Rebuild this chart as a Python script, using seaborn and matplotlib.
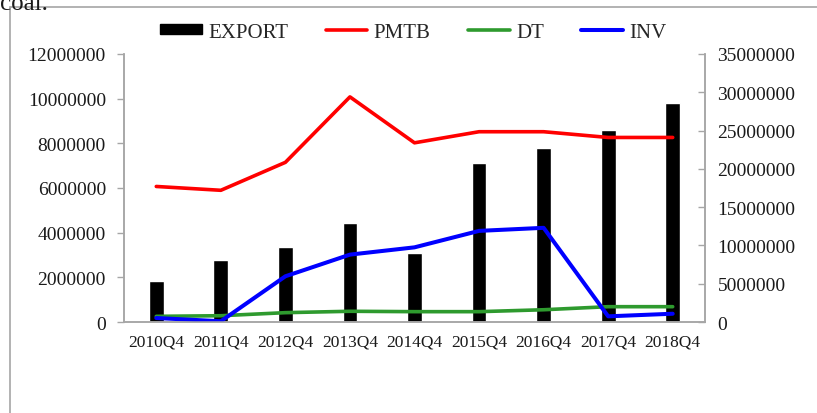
import numpy as np
import pandas as pd
import matplotlib.pyplot as plt
from matplotlib.lines import Line2D
from matplotlib.patches import Patch
import seaborn as sns

# data
quarters = ['2010Q4', '2011Q4', '2012Q4', '2013Q4', '2014Q4',
            '2015Q4', '2016Q4', '2017Q4', '2018Q4']
export = [1850000, 2790000, 3340000, 4430000, 3100000,
          7110000, 7810000, 8610000, 9810000]
pmtb = [17700000, 17200000, 20850000, 29400000, 23400000,
        24850000, 24850000, 24100000, 24100000]
dt = [740000, 820000, 1220000, 1400000, 1350000,
      1350000, 1600000, 2000000, 2000000]
inv = [520000, 100000, 5970000, 8800000, 9750000,
       11900000, 12300000, 740000, 1080000]

left_ticks = [0, 2000000, 4000000, 6000000, 8000000, 10000000, 12000000]
right_ticks = [0, 5000000, 10000000, 15000000, 20000000, 25000000, 30000000, 35000000]

df = pd.DataFrame({'quarter': quarters, 'pos': range(len(quarters)),
                   'EXPORT': export, 'PMTB': pmtb, 'DT': dt, 'INV': inv})

sns.set_style('white')
plt.rcParams['font.family'] = ['Liberation Serif', 'DejaVu Serif']

axis_grey = '#a6a6a6'

fig = plt.figure(figsize=(8.17, 4.14), dpi=100)
ax = fig.add_axes([124 / 817, 1 - 323 / 414, 581 / 817, 268 / 414])

# bars on the left axis
sns.barplot(data=df, x='pos', y='EXPORT', color='black', width=0.23,
            saturation=1, ax=ax)

# lines on the right axis
ax2 = ax.twinx()
sns.lineplot(data=df, x='pos', y='PMTB', color='#ff0000', linewidth=2.6, ax=ax2)
sns.lineplot(data=df, x='pos', y='DT', color='#2e9a2e', linewidth=2.6, ax=ax2)
sns.lineplot(data=df, x='pos', y='INV', color='#0000ff', linewidth=2.9, ax=ax2)

ax.set_xlim(-0.5, len(quarters) - 0.5)
ax.set_ylim(0, 12000000)
ax2.set_ylim(0, 35000000)
ax.set_yticks(left_ticks)
ax.set_yticklabels([str(v) for v in left_ticks])
ax2.set_yticks(right_ticks)
ax2.set_yticklabels([str(v) for v in right_ticks])

ax.set_xticks(range(len(quarters)))
ax.set_xticklabels(quarters)
ax.set_xticks(np.arange(len(quarters) + 1) - 0.5, minor=True)
ax.set_xlabel('')
ax.set_ylabel('')
ax2.set_xlabel('')
ax2.set_ylabel('')

ax.tick_params(axis='x', which='major', length=0, pad=8, labelsize=12.5, labelcolor='#1a1a1a')
ax.tick_params(axis='x', which='minor', length=5, width=1, color=axis_grey, direction='out')
ax.tick_params(axis='y', length=5, width=1, color=axis_grey, direction='out',
               pad=8, labelsize=14, labelcolor='#1a1a1a')
ax2.tick_params(axis='y', length=5, width=1, color=axis_grey, direction='in',
                pad=9, labelsize=14, labelcolor='#1a1a1a')

for a in (ax, ax2):
    a.spines['top'].set_visible(False)
    for s in ('left', 'right', 'bottom'):
        a.spines[s].set_color(axis_grey)
        a.spines[s].set_linewidth(1.1)

# legend across the top
handles = [Patch(facecolor='black', edgecolor='black'),
           Line2D([], [], color='#ff0000', linewidth=2.6),
           Line2D([], [], color='#2e9a2e', linewidth=2.6),
           Line2D([], [], color='#0000ff', linewidth=2.9)]
fig.legend(handles, ['EXPORT', 'PMTB', 'DT', 'INV'], ncol=4, frameon=False,
           loc='center', bbox_to_anchor=(0.506, 1 - 33 / 414), fontsize=15,
           handlelength=2.0, handleheight=0.4, handletextpad=0.3, columnspacing=1.8)

# page frame and the cut-off line of text from the surrounding document
fig.add_artist(Line2D([10 / 817, 1], [1 - 7.5 / 414, 1 - 7.5 / 414], color=axis_grey, linewidth=1.2))
fig.add_artist(Line2D([10 / 817, 10 / 817], [0, 1 - 7.5 / 414], color=axis_grey, linewidth=1.2))
fig.text(0.0, 1 - 10 / 414, 'coal.', fontsize=18, va='baseline', ha='left', color='#1a1a1a')

fig.savefig('out.png', dpi=100)
